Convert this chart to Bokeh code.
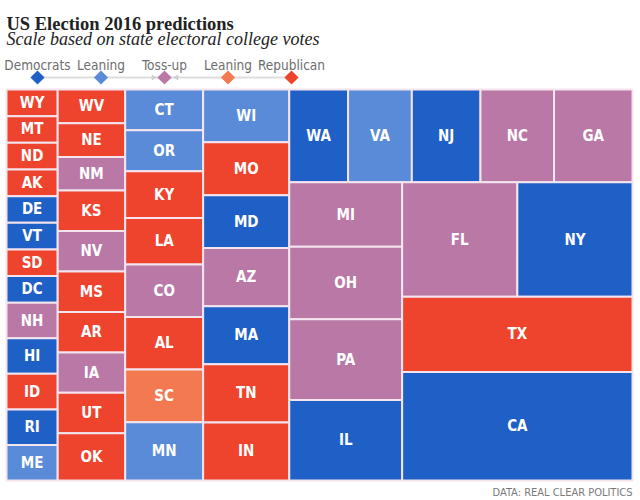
import math
from bokeh.plotting import figure
from bokeh.models import Range1d, ColumnDataSource
from bokeh.core.properties import value
from bokeh.embed import file_html
from bokeh.resources import INLINE

# ---- data ----
states = ["WY", "MT", "ND", "AK", "DE", "VT", "SD", "DC", "NH", "HI", "ID", "RI", "ME",
          "WV", "NE", "NM", "KS", "NV", "MS", "AR", "IA", "UT", "OK",
          "CT", "OR", "KY", "LA", "CO", "AL", "SC", "MN",
          "WI", "MO", "MD", "AZ", "MA", "TN", "IN",
          "WA", "VA", "NJ", "NC", "GA",
          "MI", "OH", "PA", "IL",
          "FL", "NY", "TX", "CA"]
votes = [3, 3, 3, 3, 3, 3, 3, 3, 4, 4, 4, 4, 4,
         5, 5, 5, 6, 6, 6, 6, 6, 6, 7,
         7, 7, 8, 8, 9, 9, 9, 10,
         10, 10, 10, 11, 11, 11, 11,
         12, 13, 14, 15, 16,
         16, 18, 20, 20,
         29, 29, 38, 55]
ratings = ["R", "R", "R", "R", "D", "D", "R", "D", "T", "D", "R", "D", "LD",
           "R", "R", "T", "R", "T", "R", "R", "T", "R", "R",
           "LD", "LD", "R", "R", "T", "R", "LR", "LD",
           "LD", "R", "D", "T", "D", "R", "R",
           "D", "LD", "D", "T", "T",
           "T", "T", "T", "D",
           "T", "D", "R", "D"]

legend_labels = ["Democrats", "Leaning", "Toss-up", "Leaning", "Republican"]
legend_keys = ["D", "LD", "T", "LR", "R"]
legend_colors = ["#1f60c6", "#5a8bd8", "#ba78a6", "#f37a50", "#ee432d"]
color_of = dict(zip(legend_keys, legend_colors))

title = "US Election 2016 predictions"
subtitle = "Scale based on state electoral college votes"
source_note = "DATA: REAL CLEAR POLITICS"

SANS = "DejaVu Sans Condensed"


# ---- squarified treemap layout (d3-style, golden ratio) ----
def squarify(vals, x0, y0, x1, y1, ratio=(1 + math.sqrt(5)) / 2):
    n = len(vals)
    rects = [None] * n
    remaining = float(sum(vals))
    i0 = i1 = 0
    while i0 < n:
        dx, dy = x1 - x0, y1 - y0
        s = vals[i1]
        i1 += 1
        mn = mx = s
        alpha = max(dy / dx, dx / dy) / (remaining * ratio)
        beta = s * s * alpha
        min_ratio = max(mx / beta, beta / mn)
        while i1 < n:
            v = vals[i1]
            s += v
            mn2, mx2 = min(mn, v), max(mx, v)
            beta = s * s * alpha
            new_ratio = max(mx2 / beta, beta / mn2)
            if new_ratio > min_ratio:
                s -= v
                break
            mn, mx = mn2, mx2
            min_ratio = new_ratio
            i1 += 1
        row = list(range(i0, i1))
        if dx < dy:
            ny = y0 + dy * s / remaining
            x = x0
            for i in row:
                w = (x1 - x0) * vals[i] / s
                rects[i] = (x, y0, x + w, ny)
                x += w
            y0 = ny
        else:
            nx = x0 + dx * s / remaining
            y = y0
            for i in row:
                h = (y1 - y0) * vals[i] / s
                rects[i] = (x0, y, nx, y + h)
                y += h
            x0 = nx
        remaining -= s
        i0 = i1
    return rects


W, H = 640, 500
rects = squarify(votes, 6, 89, 632, 480)

src = ColumnDataSource(dict(
    left=[r[0] for r in rects], right=[r[2] for r in rects],
    top=[r[1] for r in rects], bottom=[r[3] for r in rects],
    cx=[(r[0] + r[2]) / 2 for r in rects], cy=[(r[1] + r[3]) / 2 for r in rects],
    state=states, color=[color_of[r] for r in ratings],
))

p = figure(width=W, height=H, output_backend="svg", toolbar_location=None,
           x_range=Range1d(0, W), y_range=Range1d(H, 0),
           min_border=0, min_border_left=0, min_border_right=0,
           min_border_top=0, min_border_bottom=0)
p.axis.visible = False
p.grid.visible = False
p.outline_line_color = None
p.background_fill_color = "white"
p.border_fill_color = "white"

p.quad(left="left", right="right", top="top", bottom="bottom", source=src,
       fill_color="color", line_color="#f4e4ee", line_width=2)
p.text(x="cx", y="cy", text="state", source=src, text_color="white",
       text_align="center", text_baseline="middle", text_font_size="15px",
       text_font_style="bold", text_font=value(SANS))

# ---- titles ----
p.text(x=[6], y=[23], text=[title], text_font=value("Liberation Serif"),
       text_font_size="18.5px", text_font_style="bold", text_color="#222222",
       text_baseline="alphabetic")
p.text(x=[6], y=[38], text=[subtitle], text_font=value("Liberation Serif"),
       text_font_size="18px", text_font_style="italic", text_color="#222222",
       text_baseline="alphabetic")

# ---- legend ----
lx = [37 + 63.5 * i for i in range(len(legend_labels))]
p.line(x=[lx[0], lx[-1]], y=[77, 77], line_color="#dddddd", line_width=2)
p.scatter(x=[lx[2] - 11, lx[2] + 12], y=[77, 77], marker="triangle", size=6,
          angle=[-math.pi / 2, math.pi / 2], fill_color="#d0d0d0", line_color=None)
p.scatter(x=lx, y=[77] * 5, marker="square", size=10, angle=math.pi / 4,
          fill_color=legend_colors, line_color=None)
p.text(x=lx, y=[64] * 5, text=legend_labels, text_align="center",
       text_baseline="alphabetic", text_font=value(SANS),
       text_font_size="13.5px", text_color="#6e6e6e")

# ---- source note ----
p.text(x=[632], y=[492], text=[source_note], text_align="right",
       text_baseline="alphabetic", text_font=value(SANS),
       text_font_size="11px", text_color="#7a7a7a")

open("out.html", "w").write(file_html(p, INLINE))
